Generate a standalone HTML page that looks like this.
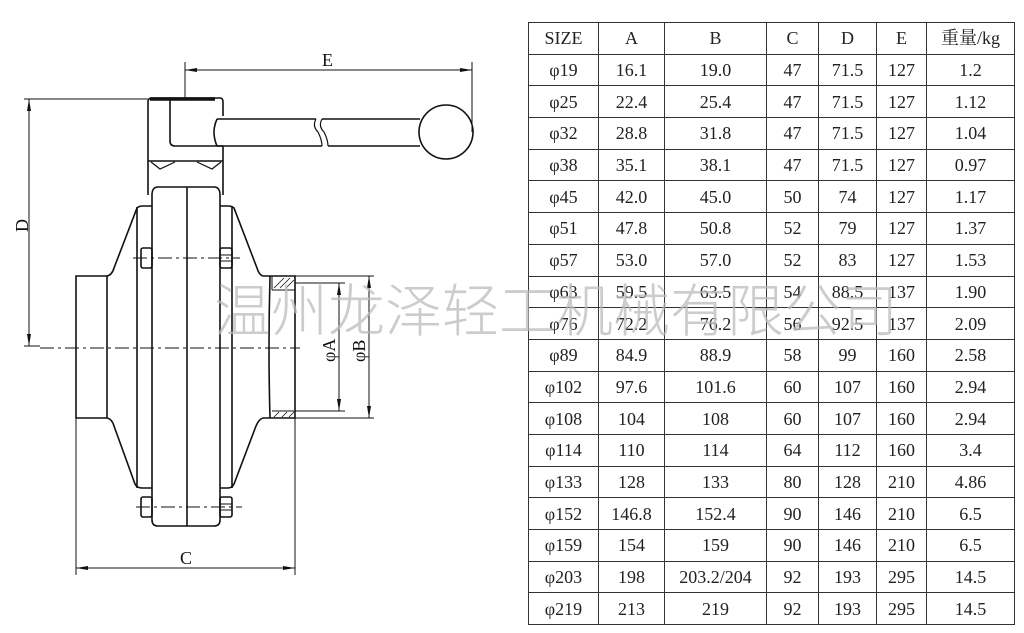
<!DOCTYPE html>
<html><head><meta charset="utf-8"><style>
html,body{margin:0;padding:0;background:#fff;width:1024px;height:633px;overflow:hidden}
svg{position:absolute;left:0;top:0}
table{position:absolute;left:528px;top:22px;border-collapse:collapse;font-family:"Liberation Serif","Noto Serif CJK SC",serif;font-size:18px;color:#222}
td{border:1.5px solid #333;height:30.7px;padding:0;text-align:center;line-height:18px}
.wm{position:absolute;left:214px;top:272px;font-family:"Noto Sans CJK SC",sans-serif;font-weight:300;font-size:57px;letter-spacing:0px;color:#bbb;opacity:.75;white-space:nowrap;line-height:70px}
</style></head><body>
<svg width="1024" height="633" viewBox="0 0 1024 633" fill="none" stroke="#111" stroke-width="1.6">
<path d="M107 276 H76 V418 H107"/>
<line x1="107" y1="276" x2="107" y2="418"/>
<path d="M107 276 Q112 275 114 268 L137 208 Q139 206 143 206 H152"/>
<path d="M107 418 Q112 419 114 426 L135 484 Q137 488 142 488 H152"/>
<line x1="137" y1="207" x2="137" y2="488"/>
<path d="M220 206 H228 Q232 206 234 208 L257 268 Q259 275 263 276"/>
<path d="M220 488 H228 Q232 488 234 484 L256 426 Q259 419 263 418"/>
<line x1="232" y1="207" x2="232" y2="488"/>
<path d="M152 195 Q152 187 158 187 H214 Q220 187 220 195 V520 Q220 526 214 526 H158 Q152 526 152 520 Z"/>
<line x1="187" y1="187" x2="187" y2="526"/>
<path d="M263 276 H295 V418 H263"/>
<path d="M270 276 Q268 348 270 418"/>
<line x1="272" y1="290" x2="295" y2="290" stroke-width="1"/>
<line x1="272" y1="411" x2="295" y2="411" stroke-width="1"/>
<line x1="272" y1="276" x2="272" y2="290" stroke-width="1"/>
<g stroke-width="0.8"><line x1="274" y1="288" x2="284" y2="278"/><line x1="280" y1="288" x2="290" y2="278"/><line x1="286" y1="288" x2="294" y2="280"/><line x1="274" y1="417" x2="279" y2="412"/><line x1="282" y1="417" x2="287" y2="412"/><line x1="289" y1="417" x2="294" y2="412"/></g>
<rect x="141" y="248" width="11" height="20" rx="2"/><rect x="220" y="248" width="12" height="20" rx="2"/>
<line x1="220" y1="255" x2="232" y2="255" stroke-width="1"/><line x1="220" y1="261" x2="232" y2="261" stroke-width="1"/>
<rect x="141" y="497" width="11" height="20" rx="2"/><rect x="220" y="497" width="12" height="20" rx="2"/>
<line x1="220" y1="504" x2="232" y2="504" stroke-width="1"/><line x1="220" y1="510" x2="232" y2="510" stroke-width="1"/>
<g stroke-width="1" stroke-dasharray="14 4 3 4"><line x1="133" y1="258" x2="240" y2="258"/><line x1="136" y1="507" x2="242" y2="507"/><line x1="40" y1="348" x2="300" y2="348"/></g>
<path d="M148 195 V102 Q148 98 152 98 H220 Q223 98 223 102 V116"/>
<line x1="223" y1="146" x2="223" y2="195"/>
<line x1="150" y1="99" x2="215" y2="99" stroke-width="3.5"/>
<path d="M170 99 V141 Q170 146 175 146 H223"/>
<line x1="148" y1="161" x2="223" y2="161"/>
<path d="M151 162 L160 169 L175 162 M197 162 L212 169 L221 162" stroke-width="1.2"/>
<path d="M217 119 H316 M322 119 H420 M217 146 H322 M328 146 H420"/>
<path d="M217 119 Q211 132 217 146" />
<path d="M316 119 Q312 126 318 132 Q322 140 322 146 M322 119 Q318 126 324 132 Q328 140 328 146" stroke-width="1.2"/>
<circle cx="446" cy="132" r="27" fill="#fff"/>
<g stroke-width="1">
<line x1="185" y1="62" x2="185" y2="98"/><line x1="472" y1="62" x2="472" y2="132"/>
<line x1="185" y1="70" x2="472" y2="70"/>
<line x1="24" y1="99" x2="150" y2="99"/><line x1="29" y1="99" x2="29" y2="346"/>
<line x1="24" y1="346" x2="40" y2="346"/>
<line x1="76" y1="418" x2="76" y2="575"/><line x1="295" y1="418" x2="295" y2="575"/>
<line x1="76" y1="568" x2="295" y2="568"/>
<line x1="295" y1="283" x2="345" y2="283"/><line x1="295" y1="411" x2="345" y2="411"/>
<line x1="339" y1="283" x2="339" y2="411"/>
<line x1="295" y1="276" x2="374" y2="276"/><line x1="295" y1="418" x2="374" y2="418"/>
<line x1="369" y1="276" x2="369" y2="418"/>
</g>
<g fill="#111" stroke="none">
<path d="M185 70 l12 -2 v4z M472 70 l-12 -2 v4z M29 99 l-2 12 h4z M29 346 l-2 -12 h4z M76 568 l12 -2 v4z M295 568 l-12 -2 v4z M339 283 l-2 12 h4z M339 411 l-2 -12 h4z M369 276 l-2 12 h4z M369 418 l-2 -12 h4z"/>
<g font-family="Liberation Serif, serif" font-size="18">
<text x="322" y="66">E</text><text x="180" y="564">C</text>
<text transform="translate(28,232) rotate(-90)">D</text>
<text transform="translate(335,362) rotate(-90)">φA</text>
<text transform="translate(365,362) rotate(-90)">φB</text>
</g></g>
</svg>
<table>
<colgroup><col style="width:70px"><col style="width:66px"><col style="width:102px"><col style="width:52px"><col style="width:58px"><col style="width:50px"><col style="width:88px"></colgroup>
<tr><td>SIZE</td><td>A</td><td>B</td><td>C</td><td>D</td><td>E</td><td>重量/kg</td></tr>
<tr><td>φ19</td><td>16.1</td><td>19.0</td><td>47</td><td>71.5</td><td>127</td><td>1.2</td></tr>
<tr><td>φ25</td><td>22.4</td><td>25.4</td><td>47</td><td>71.5</td><td>127</td><td>1.12</td></tr>
<tr><td>φ32</td><td>28.8</td><td>31.8</td><td>47</td><td>71.5</td><td>127</td><td>1.04</td></tr>
<tr><td>φ38</td><td>35.1</td><td>38.1</td><td>47</td><td>71.5</td><td>127</td><td>0.97</td></tr>
<tr><td>φ45</td><td>42.0</td><td>45.0</td><td>50</td><td>74</td><td>127</td><td>1.17</td></tr>
<tr><td>φ51</td><td>47.8</td><td>50.8</td><td>52</td><td>79</td><td>127</td><td>1.37</td></tr>
<tr><td>φ57</td><td>53.0</td><td>57.0</td><td>52</td><td>83</td><td>127</td><td>1.53</td></tr>
<tr><td>φ63</td><td>59.5</td><td>63.5</td><td>54</td><td>88.5</td><td>137</td><td>1.90</td></tr>
<tr><td>φ76</td><td>72.2</td><td>76.2</td><td>56</td><td>92.5</td><td>137</td><td>2.09</td></tr>
<tr><td>φ89</td><td>84.9</td><td>88.9</td><td>58</td><td>99</td><td>160</td><td>2.58</td></tr>
<tr><td>φ102</td><td>97.6</td><td>101.6</td><td>60</td><td>107</td><td>160</td><td>2.94</td></tr>
<tr><td>φ108</td><td>104</td><td>108</td><td>60</td><td>107</td><td>160</td><td>2.94</td></tr>
<tr><td>φ114</td><td>110</td><td>114</td><td>64</td><td>112</td><td>160</td><td>3.4</td></tr>
<tr><td>φ133</td><td>128</td><td>133</td><td>80</td><td>128</td><td>210</td><td>4.86</td></tr>
<tr><td>φ152</td><td>146.8</td><td>152.4</td><td>90</td><td>146</td><td>210</td><td>6.5</td></tr>
<tr><td>φ159</td><td>154</td><td>159</td><td>90</td><td>146</td><td>210</td><td>6.5</td></tr>
<tr><td>φ203</td><td>198</td><td>203.2/204</td><td>92</td><td>193</td><td>295</td><td>14.5</td></tr>
<tr><td>φ219</td><td>213</td><td>219</td><td>92</td><td>193</td><td>295</td><td>14.5</td></tr>
</table>
<div class="wm">温州龙泽轻工机械有限公司</div>
</body></html>
